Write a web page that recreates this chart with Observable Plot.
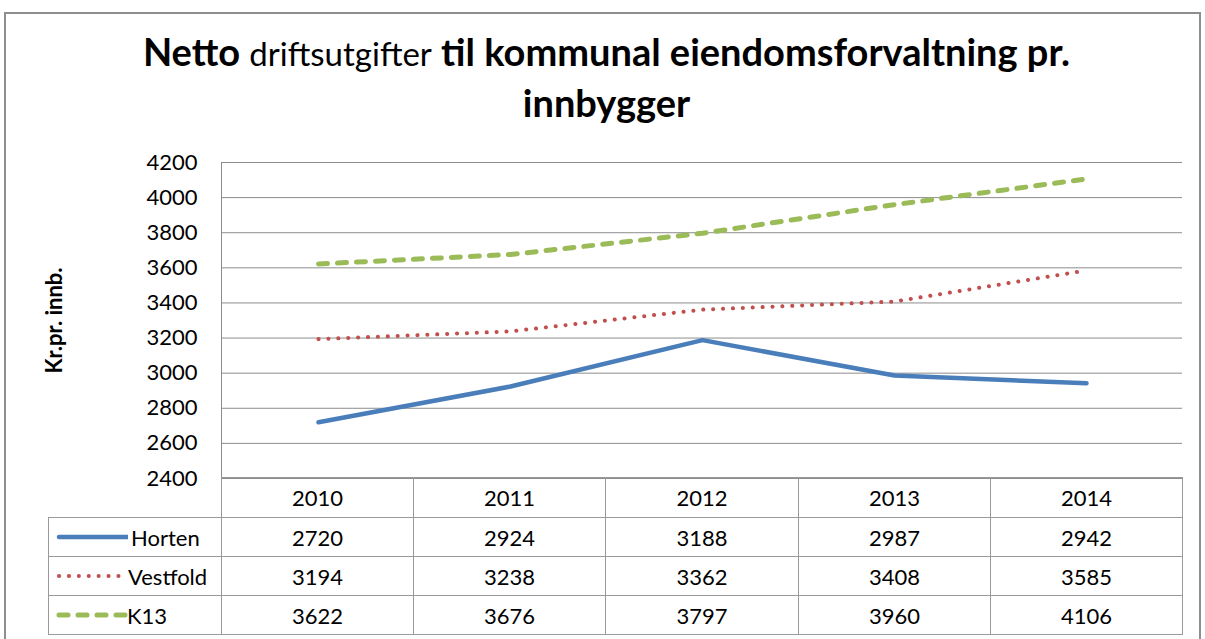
<!DOCTYPE html>
<html><head><meta charset="utf-8">
<script src="https://cdn.jsdelivr.net/npm/d3@7"></script>
<script src="https://cdn.jsdelivr.net/npm/@observablehq/plot@0.6"></script>
<style>
body{margin:0;background:#fff;font-family:Lato,"Open Sans",sans-serif;color:#000;}
#wrap{position:relative;width:1205px;height:639px;overflow:hidden;background:#fff;}
#frame{position:absolute;left:4px;top:12px;width:1193px;height:700px;border:2px solid #8e8e8e;}
#title{position:absolute;left:4px;width:1205px;top:27px;text-align:center;font-weight:bold;font-size:38px;line-height:49px;}
#title .small{font-weight:normal;font-size:33px;}
#chart{position:absolute;left:0;top:0;}
.cell{position:absolute;box-sizing:border-box;border-left:1px solid #9a9a9a;border-top:1px solid #9a9a9a;display:flex;align-items:center;justify-content:center;font-size:22px;}
.cell.leg{justify-content:flex-start;}
</style></head>
<body><div id="wrap"><div id="frame"></div>
<div id="title">Netto <span class="small">driftsutgifter</span> til kommunal eiendomsforvaltning pr.<br>innbygger</div>
<div id="chart"></div><div id="table"></div></div>
<script>
const years = ["2010","2011","2012","2013","2014"];
const seriesNames = ["Horten","Vestfold","K13"];
const horten = [2720,2924,3188,2987,2942];
const vestfold = [3194,3238,3362,3408,3585];
const k13 = [3622,3676,3797,3960,4106];
const yTicks = [2400,2600,2800,3000,3200,3400,3600,3800,4000,4200];
const yLabel = "Kr.pr. innb.";

const values = [horten, vestfold, k13];
const styles = [
  {stroke:"#4a7ebb", strokeWidth:4.5, strokeDasharray:null, strokeLinecap:"round"},
  {stroke:"#c0504d", strokeWidth:4, strokeDasharray:"0.1 9.8", strokeLinecap:"round"},
  {stroke:"#9bbb59", strokeWidth:5, strokeDasharray:"9 10", strokeLinecap:"round"}
];
const rows = seriesNames.map((s,i)=>years.map((y,j)=>({series:s, year:y, value:values[i][j]})));

const ML=221, MR=23, MT=162, H=490, MB=12;
const chart = Plot.plot({
  width:1205, height:H, marginLeft:ML, marginRight:MR, marginTop:MT, marginBottom:MB,
  style:{fontFamily:"Lato, 'Open Sans', sans-serif", color:"#000", background:"transparent"},
  x:{type:"point", domain:years, padding:0.5, axis:null},
  y:{domain:[2400,4200]},
  marks:[
    Plot.gridY(yTicks, {stroke:"#8c8c8c", strokeOpacity:1, strokeWidth:1}),
    Plot.frame({anchor:"left", stroke:"#8c8c8c"}),
    Plot.axisY(yTicks, {tickSize:0, tickPadding:24, fontSize:22, label:null, tickFormat:d=>String(d)}),
    Plot.text([yLabel], {frameAnchor:"left", textAnchor:"middle", dx:-167, rotate:-90, fontWeight:"bold", fontSize:22}),
    ...rows.map((r,i)=>Plot.line(r, {x:"year", y:"value", ...styles[i], strokeLinejoin:"round"}))
  ]
});
document.getElementById("chart").appendChild(chart);

// data table
const colX=[48,221,413,605,798,990,1182];
const rowY=[477,517,556,595,634];
const tbl=document.getElementById("table");
function cell(r,c,html,cls){
  const d=document.createElement("div");
  d.className="cell"+(cls?" "+cls:"");
  d.style.left=colX[c]+"px"; d.style.top=rowY[r]+"px";
  d.style.width=(colX[c+1]-colX[c]+(c===colX.length-2?1:0))+"px";
  d.style.height=(rowY[r+1]-rowY[r]+(r===rowY.length-2?1:0))+"px";
  if(c===colX.length-2) d.style.borderRight="1px solid #9a9a9a";
  if(r===rowY.length-2) d.style.borderBottom="1px solid #9a9a9a";
  if(r===0&&c===0){d.style.border="none";}
  d.innerHTML=html; tbl.appendChild(d);
}
cell(0,0,"");
years.forEach((y,j)=>cell(0,j+1,y));
const textLeft=[82,79,78];
seriesNames.forEach((s,i)=>{
  const st=styles[i];
  const svg=`<svg width="72" height="12" style="position:absolute;left:7px;top:50%;margin-top:-6px"><line x1="3" x2="${i===1?72:74}" y1="6" y2="6" stroke="${st.stroke}" stroke-width="${st.strokeWidth}" stroke-linecap="round" ${st.strokeDasharray?`stroke-dasharray="${st.strokeDasharray}"`:""}/></svg>`;
  cell(i+1,0,svg+`<span style="position:absolute;left:${textLeft[i]}px">${s}</span>`,"leg");
  values[i].forEach((v,j)=>cell(i+1,j+1,String(v)));
});
</script></body></html>
